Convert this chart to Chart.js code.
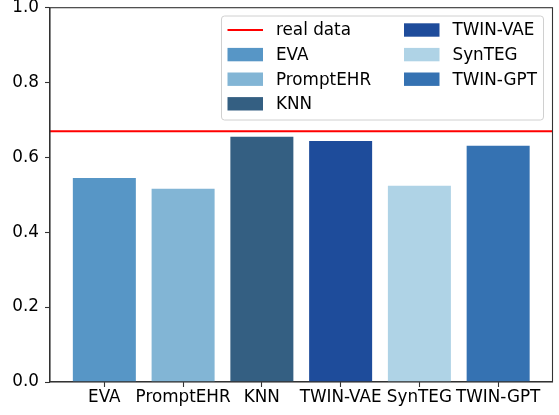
<!DOCTYPE html>
<html lang="en">
<head>
<meta charset="UTF-8">
<title>Real data vs synthetic</title>
<script src="https://cdn.jsdelivr.net/npm/chart.js@4/dist/chart.umd.min.js"></script>
<style>
  body { margin: 0; background: #fff; }
  #wrap { width: 559px; height: 415px; position: relative; }
</style>
</head>
<body>
<div id="wrap"><canvas id="grafico"></canvas></div>
<script>
// ================= DATOS =================
const categorias = ["EVA", "PromptEHR", "KNN", "TWIN-VAE", "SynTEG", "TWIN-GPT"];
const valores = [0.545, 0.516, 0.655, 0.644, 0.524, 0.631];
const realData = 0.67;
const yTicks = [0.0, 0.2, 0.4, 0.6, 0.8, 1.0];

const colores = ["#5796c6", "#82b5d5", "#345f82", "#1e4c9b", "#afd3e6", "#3572b2"];
const FONT = { family: "'DejaVu Sans', sans-serif", size: 16.8 };

// limites del eje x como matplotlib (ancho 0.8, margen 5%)
const span = (categorias.length - 1) + 0.8;
const xMin = -0.4 - span * 0.05;
const xMax = categorias.length - 1 + 0.4 + span * 0.05;

const datasets = [{
  type: "line",
  label: "real data",
  data: [{ x: xMin, y: realData }, { x: xMax, y: realData }],
  borderColor: "#ff0000",
  borderWidth: 1.9,
  pointRadius: 0,
  order: 0
}];
categorias.forEach((c, i) => {
  datasets.push({
    type: "bar",
    label: c,
    data: [{ x: i, y: valores[i] }],
    backgroundColor: colores[i],
    grouped: false,
    barPercentage: 0.8,
    categoryPercentage: 1.0,
    order: 1
  });
});

// marco + leyenda estilo matplotlib
const marco = {
  id: "marco",
  afterDraw(chart) {
    const ctx = chart.ctx;
    const a = chart.chartArea;
    ctx.save();
    ctx.strokeStyle = "#333";
    ctx.lineWidth = 1.1;
    ctx.strokeRect(a.left, a.top, a.right - a.left, a.bottom - a.top);

    // leyenda
    const bx = 221.5, by = 16, bw = 322, bh = 104;
    ctx.fillStyle = "rgba(255,255,255,0.8)";
    ctx.strokeStyle = "#d0d0d0";
    ctx.lineWidth = 1;
    ctx.beginPath();
    ctx.roundRect(bx, by, bw, bh, 3);
    ctx.fill();
    ctx.stroke();

    ctx.font = FONT.size + "px " + FONT.family;
    ctx.textBaseline = "middle";
    const ds = chart.data.datasets;
    ds.forEach((d, k) => {
      const col = k < 4 ? 0 : 1;
      const row = k < 4 ? k : k - 4;
      const hx = col === 0 ? 227.5 : 404;
      const tx = col === 0 ? 276 : 452.5;
      const cy = 30 + row * 24.6;
      if (d.type === "line") {
        ctx.strokeStyle = d.borderColor;
        ctx.lineWidth = d.borderWidth;
        ctx.beginPath();
        ctx.moveTo(hx, cy);
        ctx.lineTo(hx + 35.5, cy);
        ctx.stroke();
      } else {
        ctx.fillStyle = d.backgroundColor;
        ctx.fillRect(hx, cy - 6.7, 35.5, 13.4);
      }
      ctx.fillStyle = "#000";
      ctx.fillText(d.label, tx, cy + 1);
    });
    ctx.restore();
  }
};

const ctx = document.getElementById("grafico").getContext("2d");
new Chart(ctx, {
  data: { datasets },
  options: {
    responsive: true,
    maintainAspectRatio: false,
    animation: false,
    layout: { padding: { left: 0, right: 6.5, top: 7.7, bottom: 0 } },
    plugins: { legend: { display: false }, tooltip: { enabled: false } },
    scales: {
      x: {
        type: "linear",
        min: xMin,
        max: xMax,
        offset: false,
        afterBuildTicks: (s) => { s.ticks = categorias.map((c, i) => ({ value: i })); },
        afterFit: (s) => { s.height = 33; s.paddingLeft = 0; s.paddingRight = 0; },
        ticks: {
          autoSkip: false,
          maxRotation: 0,
          color: "#000",
          font: FONT,
          padding: 1,
          callback: (v) => categorias[v]
        },
        grid: { offset: false, drawOnChartArea: false, tickLength: 5, tickColor: "#333", tickWidth: 1.1 },
        border: { color: "#333", width: 1.1 }
      },
      y: {
        min: 0,
        max: 1,
        afterBuildTicks: (s) => { s.ticks = yTicks.map(v => ({ value: v })); },
        afterFit: (s) => { s.width = 50; s.paddingTop = 0; s.paddingBottom = 0; },
        ticks: {
          color: "#000",
          font: FONT,
          padding: 6,
          callback: (v) => v.toFixed(1)
        },
        grid: { drawOnChartArea: false, tickLength: 5, tickColor: "#333", tickWidth: 1.1 },
        border: { color: "#333", width: 1.1 }
      }
    }
  },
  plugins: [marco]
});
</script>
</body>
</html>
